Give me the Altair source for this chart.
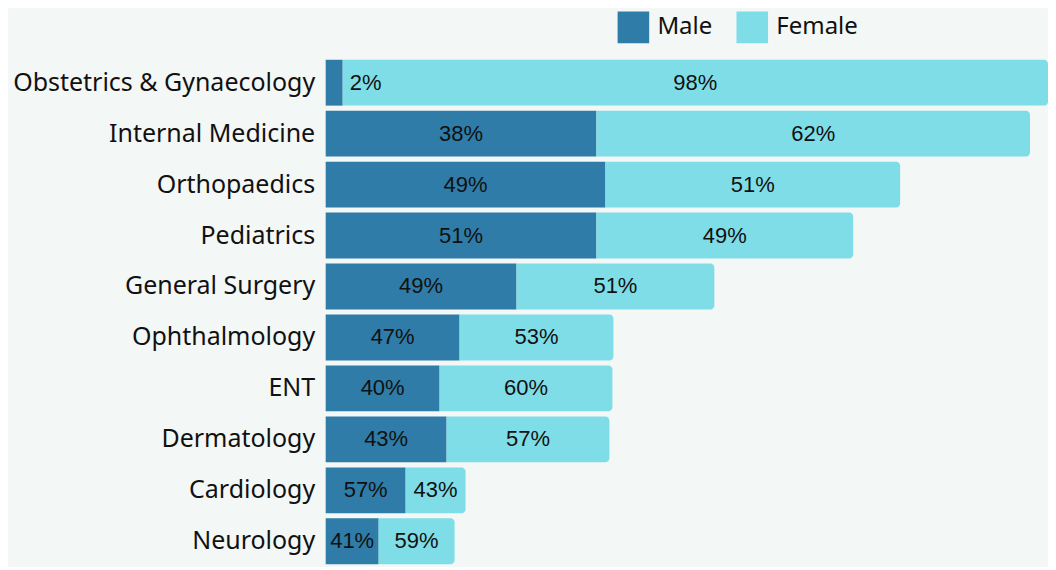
import altair as alt
import pandas as pd

departments = ["Obstetrics & Gynaecology", "Internal Medicine", "Orthopaedics", "Pediatrics",
               "General Surgery", "Ophthalmology", "ENT", "Dermatology", "Cardiology", "Neurology"]
male = [17, 271, 280, 271, 191, 134, 114, 121, 80, 53]
female = [706, 434, 295, 257, 198, 154, 173, 163, 60, 76]
male_pct = ["2%", "38%", "49%", "51%", "49%", "47%", "40%", "43%", "57%", "41%"]
female_pct = ["98%", "62%", "51%", "49%", "51%", "53%", "60%", "57%", "43%", "59%"]
genders = ["Male", "Female"]
colors = ["#2e7ca7", "#7edde7"]

rows = []
for d, m, f, mp, fp in zip(departments, male, female, male_pct, female_pct):
    rows.append({"dept": d, "gender": "Male", "start": 0, "end": m, "label": mp})
    rows.append({"dept": d, "gender": "Female", "start": m, "end": m + f, "label": fp})
df = pd.DataFrame(rows)
df["mid"] = (df["start"] + df["end"]) / 2
df["narrow"] = (df["end"] - df["start"]) < 40

maxv = max(m + f for m, f in zip(male, female))
xscale = alt.Scale(domain=[0, maxv], nice=False, zero=True)

y = alt.Y("dept:N", sort=departments, title=None,
          scale=alt.Scale(paddingInner=0.1, paddingOuter=0.05),
          axis=alt.Axis(domain=False, ticks=False, labelFontSize=25, labelFont="Noto Sans",
                        labelColor="#111111", labelPadding=11, labelLimit=0))
x = alt.X("start:Q", axis=None, scale=xscale)
color = alt.Color("gender:N", scale=alt.Scale(domain=genders, range=colors),
                  sort=genders,
                  legend=alt.Legend(title=None, orient="none", direction="horizontal",
                                    legendX=292, legendY=-46, symbolType="square",
                                    symbolSize=1000, symbolStrokeWidth=0, labelFontSize=24,
                                    labelFont="Noto Sans", labelColor="#111111",
                                    labelOffset=8, columnPadding=24))

base = alt.Chart(df)
male_bars = base.transform_filter(alt.datum.gender == "Male").mark_bar().encode(
    y=y, x=x, x2="end:Q", color=color)
female_bars = base.transform_filter(alt.datum.gender == "Female").mark_bar(
    cornerRadiusTopRight=4, cornerRadiusBottomRight=4).encode(
    y=y, x=x, x2="end:Q", color=color)
labels_mid = base.transform_filter("!datum.narrow").mark_text(
    fontSize=22, font="Liberation Sans", color="#111111").encode(
    y=y, x=alt.X("mid:Q", scale=xscale), text="label:N")
labels_out = base.transform_filter("datum.narrow").mark_text(
    fontSize=22, font="Liberation Sans", color="#111111", align="left", dx=7).encode(
    y=y, x=alt.X("end:Q", scale=xscale), text="label:N")

chart = alt.layer(male_bars, female_bars, labels_mid, labels_out).properties(
    width=723, height=510,
    autosize=alt.AutoSizeParams(type="none"),
    padding={"left": 318, "top": 49, "right": 0, "bottom": 0},
    background="#f3f7f6",
).configure_view(stroke=None)

chart.save("out.html", embed_options={"renderer": "svg", "actions": False})
